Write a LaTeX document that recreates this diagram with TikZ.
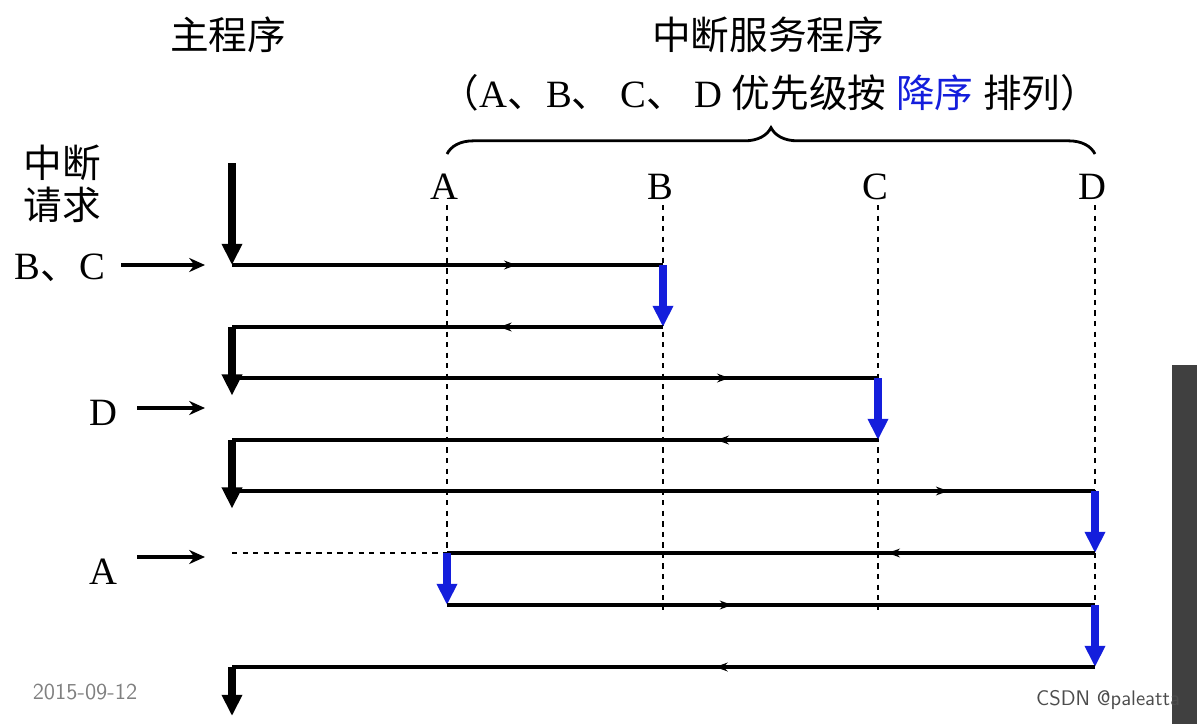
\documentclass[tikz,border=0pt]{standalone}
\usepackage{fontspec}
\setmainfont{Liberation Serif}
\newfontfamily\cjk{Noto Sans CJK SC}
\usetikzlibrary{arrows.meta,decorations.pathreplacing,decorations.markings,positioning}
\definecolor{intblue}{RGB}{20,30,220}
\tikzset{
    x=0.02cm,y=-0.02cm,
    flow/.style={line width=2.4pt},
    mid/.style={postaction={decorate},decoration={markings,mark=at position #1 with {\arrow{Stealth[length=7pt,width=5pt]}}}},
    down/.style={line width=4pt,-{Triangle[length=12pt,width=11pt]}},
    switch/.style={down,intblue},
    req/.style={line width=2pt,-{Stealth[length=9pt,width=8pt]}},
    guide/.style={dashed,line width=1pt},
    lbl/.style={font=\fontsize{22}{26}\selectfont}
}
\begin{document}
\begin{tikzpicture}
    \useasboundingbox (0,0) rectangle (1197,724);
    % titles
    \node[lbl] (mainT) at (228,35) {\cjk 主程序};
    \node[lbl] (isrT) at (768,35) {\cjk 中断服务程序};
    \node[lbl] (prio) at (770,93) {{\cjk （}A{\cjk 、}B{\cjk 、} C{\cjk 、} D {\cjk 优先级按} {\cjk\color{intblue}降序} {\cjk 排列）}};
    \draw[decorate,decoration={brace,amplitude=15pt},line width=1.6pt] (447,154) -- (1095,154);
    \node[lbl,align=center] (reqT) at (62,184) {\cjk 中断\\[-2pt]\cjk 请求};
    % service routines
    \foreach \n/\x/\e in {A/447/605,B/663/610,C/878/610,D/1095/665}{
        \node[lbl] (\n) at (\x-3,187) {\n};
        \coordinate (\n top) at (\x,205);
        \coordinate (\n bot) at (\x,\e);
        \draw[guide] (\n top) -- (\n bot);
    }
    % requests
    \node[lbl] (rBC) at (60,268) {B{\cjk 、}C};
    \node[lbl] (rD) at (103,413) {D};
    \node[lbl] (rA) at (103,572) {A};
    \coordinate (rBCe) at (205,265); \coordinate (rDe) at (205,408); \coordinate (rAe) at (205,557);
    \draw[req] (rBC.east)++(10,-3) -- (rBCe);
    \draw[req] (rD.east)++(14,-5) -- (rDe);
    \draw[req] (rA.east)++(14,-15) -- (rAe);
    % corners
    \coordinate (m0) at (232,163);
    \foreach \i/\y in {1/265,2/327,3/378,4/440,5/491,6/553,7/605,8/667}{
        \coordinate (m\i) at (232,\y);
        \coordinate (a\i) at (447,\y);
        \coordinate (b\i) at (663,\y);
        \coordinate (c\i) at (878,\y);
        \coordinate (d\i) at (1095,\y);
    }
    \coordinate (mEnd) at (232,716);
    % main program
    \draw[down] (m0) -- (m1);
    \draw[down] (m2) -- ([yshift=-10]m3);
    \draw[down] (m4) -- ([yshift=-10]m5);
    \draw[down] (m8) -- (mEnd);
    % execution flow
    \draw[flow,mid=0.66] (m1) -- (b1);
    \draw[switch] (b1) -- (b2);
    \draw[flow,mid=0.38] (b2) -- (m2);
    \draw[flow,mid=0.77] (m3) -- (c3);
    \draw[switch] (c3) -- (c4);
    \draw[flow,mid=0.25] (c4) -- (m4);
    \draw[flow,mid=0.83] (m5) -- (d5);
    \draw[switch] (d5) -- (d6);
    \draw[flow,mid=0.32] (d6) -- (a6);
    \draw[guide] (m6) -- (a6);
    \draw[switch] (a6) -- (a7);
    \draw[flow,mid=0.44] (a7) -- (d7);
    \draw[switch] (d7) -- (d8);
    \draw[flow,mid=0.44] (d8) -- (m8);
    % stamps
    \node[text=gray,font=\fontsize{13}{15}\selectfont\sffamily] (date) at (85,692) {2015-09-12};
    \fill[black!75] (1172,365) rectangle (1197,724);
    \node[text=black!70,font=\fontsize{12}{14}\selectfont\sffamily] (mark) at (1108,700) {CSDN @paleatta};
\end{tikzpicture}
\end{document}
